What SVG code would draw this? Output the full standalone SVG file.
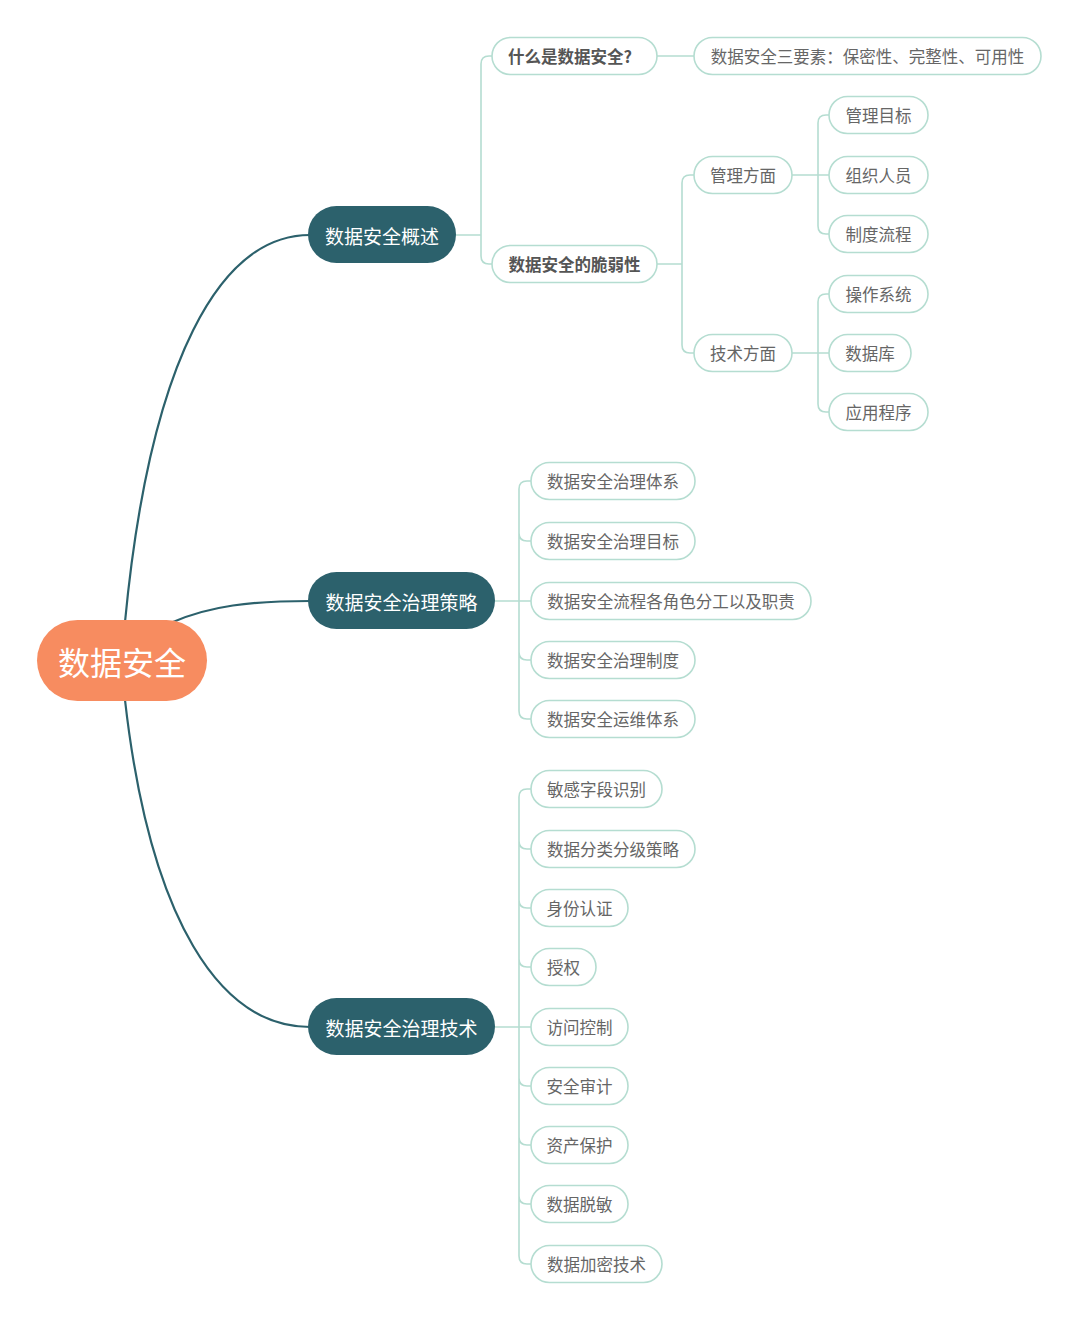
<svg xmlns="http://www.w3.org/2000/svg" width="1080" height="1322" viewBox="0 0 1080 1322">
<style>
text{font-family:"Noto Sans CJK SC","Noto Sans",sans-serif;dominant-baseline:central;text-anchor:middle}
.main{fill:none;stroke:#2C616C;stroke-width:2.2}
.sub{fill:none;stroke:#B5DDD1;stroke-width:1.6}
.root rect{fill:#F78C60}
.root text{fill:#fff;font-size:32px}
.l1 rect{fill:#2C616C}
.l1 text{fill:#fff;font-size:19px}
.l2 rect{fill:#fff;stroke:#B5DDD1;stroke-width:1.6}
.l2 text{fill:#666;font-size:16.5px}
.l2.b text{fill:#555;font-weight:bold}
</style>
<rect width="1080" height="1322" fill="#fff"/>
<g id="connectors">
<path class="main" d="M125,622 C150,360 220,235 310,235"/>
<path class="main" d="M173,622 C210,606 250,601 310,601"/>
<path class="main" d="M125,700 C150,920 220,1027 310,1027"/>
<path class="sub" d="M456,235 H481 M492,56 H489 Q481,56 481,64 V256 Q481,264 489,264 H492"/>
<path class="sub" d="M657,56 H694"/>
<path class="sub" d="M657,264 H682 M694,175 H690 Q682,175 682,183 V345 Q682,353 690,353 H694"/>
<path class="sub" d="M792,175 H829 M829,115 H826 Q818,115 818,123 V226 Q818,234 826,234 H829"/>
<path class="sub" d="M792,353 H829 M829,294 H826 Q818,294 818,302 V404 Q818,412 826,412 H829"/>
<path class="sub" d="M495,601 H531 M531,481 H527 Q519,481 519,489 V711 Q519,719 527,719 H531 M519,533 Q519,541 527,541 H531 M519,652 Q519,660 527,660 H531"/>
<path class="sub" d="M495,1027 H531 M531,789 H527 Q519,789 519,797 V1256 Q519,1264 527,1264 H531 M519,841 Q519,849 527,849 H531 M519,900 Q519,908 527,908 H531 M519,959 Q519,967 527,967 H531 M519,1078 Q519,1086 527,1086 H531 M519,1137 Q519,1145 527,1145 H531 M519,1196 Q519,1204 527,1204 H531"/>
</g>
<g id="n-root" class="root"><rect x="37" y="620" width="170" height="81" rx="40.5"/><text x="122" y="661">数据安全</text></g>
<g id="n-overview" class="l1"><rect x="308" y="206" width="148" height="57" rx="28.5"/><text x="382" y="235">数据安全概述</text></g>
<g id="n-strategy" class="l1"><rect x="308" y="572" width="187" height="57" rx="28.5"/><text x="401.5" y="601">数据安全治理策略</text></g>
<g id="n-tech" class="l1"><rect x="308" y="998" width="187" height="57" rx="28.5"/><text x="401.5" y="1027">数据安全治理技术</text></g>
<g id="n-what" class="l2 b"><rect x="492" y="37.5" width="165" height="37" rx="18.5"/><text x="570" y="56">什么是数据安全?</text></g>
<g id="n-three" class="l2"><rect x="694" y="37.5" width="347" height="37" rx="18.5"/><text x="867.5" y="56">数据安全三要素：保密性、完整性、可用性</text></g>
<g id="n-vuln" class="l2 b"><rect x="492" y="245.5" width="165" height="37" rx="18.5"/><text x="574.5" y="264">数据安全的脆弱性</text></g>
<g id="n-mgmt" class="l2"><rect x="694" y="156.5" width="98" height="37" rx="18.5"/><text x="743" y="175">管理方面</text></g>
<g id="n-techside" class="l2"><rect x="694" y="334.5" width="98" height="37" rx="18.5"/><text x="743" y="353">技术方面</text></g>
<g id="n-m1" class="l2"><rect x="829" y="96.5" width="99" height="37" rx="18.5"/><text x="878.5" y="115">管理目标</text></g>
<g id="n-m2" class="l2"><rect x="829" y="156.5" width="99" height="37" rx="18.5"/><text x="878.5" y="175">组织人员</text></g>
<g id="n-m3" class="l2"><rect x="829" y="215.5" width="99" height="37" rx="18.5"/><text x="878.5" y="234">制度流程</text></g>
<g id="n-t1" class="l2"><rect x="829" y="275.5" width="99" height="37" rx="18.5"/><text x="878.5" y="294">操作系统</text></g>
<g id="n-t2" class="l2"><rect x="829" y="334.5" width="82" height="37" rx="18.5"/><text x="870" y="353">数据库</text></g>
<g id="n-t3" class="l2"><rect x="829" y="393.5" width="99" height="37" rx="18.5"/><text x="878.5" y="412">应用程序</text></g>
<g id="n-s1" class="l2"><rect x="531" y="462.5" width="164" height="37" rx="18.5"/><text x="613" y="481">数据安全治理体系</text></g>
<g id="n-s2" class="l2"><rect x="531" y="522.5" width="164" height="37" rx="18.5"/><text x="613" y="541">数据安全治理目标</text></g>
<g id="n-s3" class="l2"><rect x="531" y="582.5" width="280" height="37" rx="18.5"/><text x="671" y="601">数据安全流程各角色分工以及职责</text></g>
<g id="n-s4" class="l2"><rect x="531" y="641.5" width="164" height="37" rx="18.5"/><text x="613" y="660">数据安全治理制度</text></g>
<g id="n-s5" class="l2"><rect x="531" y="700.5" width="164" height="37" rx="18.5"/><text x="613" y="719">数据安全运维体系</text></g>
<g id="n-k1" class="l2"><rect x="531" y="770.5" width="131" height="37" rx="18.5"/><text x="596.5" y="789">敏感字段识别</text></g>
<g id="n-k2" class="l2"><rect x="531" y="830.5" width="164" height="37" rx="18.5"/><text x="613" y="849">数据分类分级策略</text></g>
<g id="n-k3" class="l2"><rect x="531" y="889.5" width="97" height="37" rx="18.5"/><text x="579.5" y="908">身份认证</text></g>
<g id="n-k4" class="l2"><rect x="531" y="948.5" width="65" height="37" rx="18.5"/><text x="563.5" y="967">授权</text></g>
<g id="n-k5" class="l2"><rect x="531" y="1008.5" width="97" height="37" rx="18.5"/><text x="579.5" y="1027">访问控制</text></g>
<g id="n-k6" class="l2"><rect x="531" y="1067.5" width="97" height="37" rx="18.5"/><text x="579.5" y="1086">安全审计</text></g>
<g id="n-k7" class="l2"><rect x="531" y="1126.5" width="97" height="37" rx="18.5"/><text x="579.5" y="1145">资产保护</text></g>
<g id="n-k8" class="l2"><rect x="531" y="1185.5" width="97" height="37" rx="18.5"/><text x="579.5" y="1204">数据脱敏</text></g>
<g id="n-k9" class="l2"><rect x="531" y="1245.5" width="131" height="37" rx="18.5"/><text x="596.5" y="1264">数据加密技术</text></g>
</svg>
